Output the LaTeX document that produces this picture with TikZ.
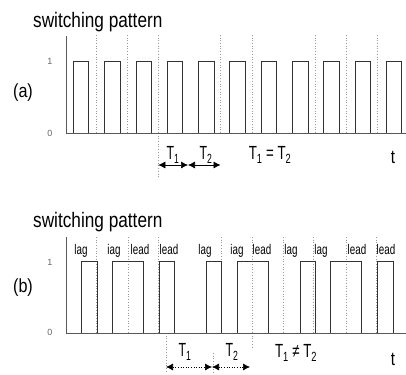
\documentclass[tikz,border=0pt]{standalone}
\usepackage{fontspec}
\setmainfont{Liberation Sans}
\usetikzlibrary{arrows.meta}
\newcommand\cnd[2][0.78]{\scalebox{#1}[1]{#2}}
\begin{document}
\begin{tikzpicture}[x=1pt,y=-1pt,
  pulse/.style={draw=black!80, line width=0.8pt},
  gridline/.style={draw=black!40, dotted, line width=0.7pt},
  axisline/.style={draw=black!65, line width=0.8pt},
  title/.style={font=\fontsize{21}{21}\selectfont, inner sep=0, anchor=base west},
  tick/.style={font=\fontsize{9}{9}\selectfont, inner sep=0, text=black!60},
  panel/.style={font=\fontsize{19}{19}\selectfont, inner sep=0},
  lbl/.style={font=\fontsize{14}{14}\selectfont, inner sep=0, anchor=base},
  tlbl/.style={font=\fontsize{19}{19}\selectfont, inner sep=0},
  dimsolid/.style={{Latex[length=7pt,width=7pt]}-{Latex[length=7pt,width=7pt]}, line width=0.6pt},
  dimdot/.style={{Latex[length=7pt,width=7pt]}-{Latex[length=7pt,width=7pt]}, line width=0.6pt, dotted}]
\useasboundingbox (0,0) rectangle (406,374);

% ---------------- panel (a) ----------------
\node[title] (titlea) at (33,28) {\cnd[0.82]{switching pattern}};
\node[panel] (pa) at (23,93) {\cnd[0.85]{(a)}};
\node[tick] (onea) at (50,61) {1};
\node[tick] (zeroa) at (50,133) {0};
\foreach \x in {96.7,127.7,158.3,220.7,252.3,315,346,377.7}
  \draw[gridline] (\x,35) -- (\x,133);
\draw[gridline] (158.3,133) -- (158.3,178);
\foreach \k in {0,...,10}{
  \pgfmathsetmacro\xl{73.3+31.3*\k}
  \draw[pulse] (\xl,133) -- (\xl,61) -- (\xl+15.5,61) -- (\xl+15.5,133);
}
\draw[axisline] (66,36) -- (66,133) -- (406,133);
\coordinate (a1) at (158.3,165);
\coordinate (a2) at (188,165);
\coordinate (a3) at (220.5,165);
\draw[dimsolid] (a1) -- (a2);
\draw[dimsolid] (a2) -- (a3);
\node[tlbl] (t1a) at (173,155) {\cnd[0.65]{T\textsubscript{1}}};
\node[tlbl] (t2a) at (206,155) {\cnd[0.65]{T\textsubscript{2}}};
\node[tlbl] (eqa) at (270,155) {\cnd[0.7]{T\textsubscript{1} = T\textsubscript{2}}};
\node[tlbl] (ta) at (393,157) {\cnd[0.8]{t}};

% ---------------- panel (b) ----------------
\node[title] (titleb) at (33,227) {\cnd[0.82]{switching pattern}};
\node[panel] (pb) at (23,288) {\cnd[0.85]{(b)}};
\node[tick] (oneb) at (50,262) {1};
\node[tick] (zerob) at (50,332) {0};
\foreach \x in {96.7,128.3,158.3,221.7,252.7,283.3,313,346.7,376.7}
  \draw[gridline] (\x,237) -- (\x,333);
\draw[gridline] (166,333) -- (166,373);
\draw[gridline] (213,353) -- (213,373);
\draw[gridline] (252.7,333) -- (252.7,348);
\foreach \a/\b in {81.7/97.3,112.7/143.3,159.3/174.7,206.7/221.7,237.3/268.3,300/315,330.7/361.7,377.7/393.3}
  \draw[pulse] (\a,333) -- (\a,261) -- (\b,261) -- (\b,333);
\draw[axisline] (66,237) -- (66,333) -- (406,333);
\foreach \n/\x/\t in {1/81/lag,2/114/iag,3/140/lead,4/169/lead,5/205/lag,6/237/iag,7/262/lead,8/291/lag,9/321/lag,10/357/lead,11/386/lead}
  \node[lbl] (l\n) at (\x,254) {\cnd[0.7]{\t}};
\coordinate (b1) at (166,367);
\coordinate (b2) at (212,367);
\coordinate (b3) at (250,367);
\draw[dimdot] (b1) -- (b2);
\draw[dimdot] (b2) -- (b3);
\node[tlbl] (t1b) at (185,352) {\cnd[0.65]{T\textsubscript{1}}};
\node[tlbl] (t2b) at (232,352) {\cnd[0.65]{T\textsubscript{2}}};
\node[tlbl] (neb) at (296,353) {\cnd[0.7]{T\textsubscript{1} ≠ T\textsubscript{2}}};
\node[tlbl] (tb) at (393,359) {\cnd[0.8]{t}};
\end{tikzpicture}
\end{document}
